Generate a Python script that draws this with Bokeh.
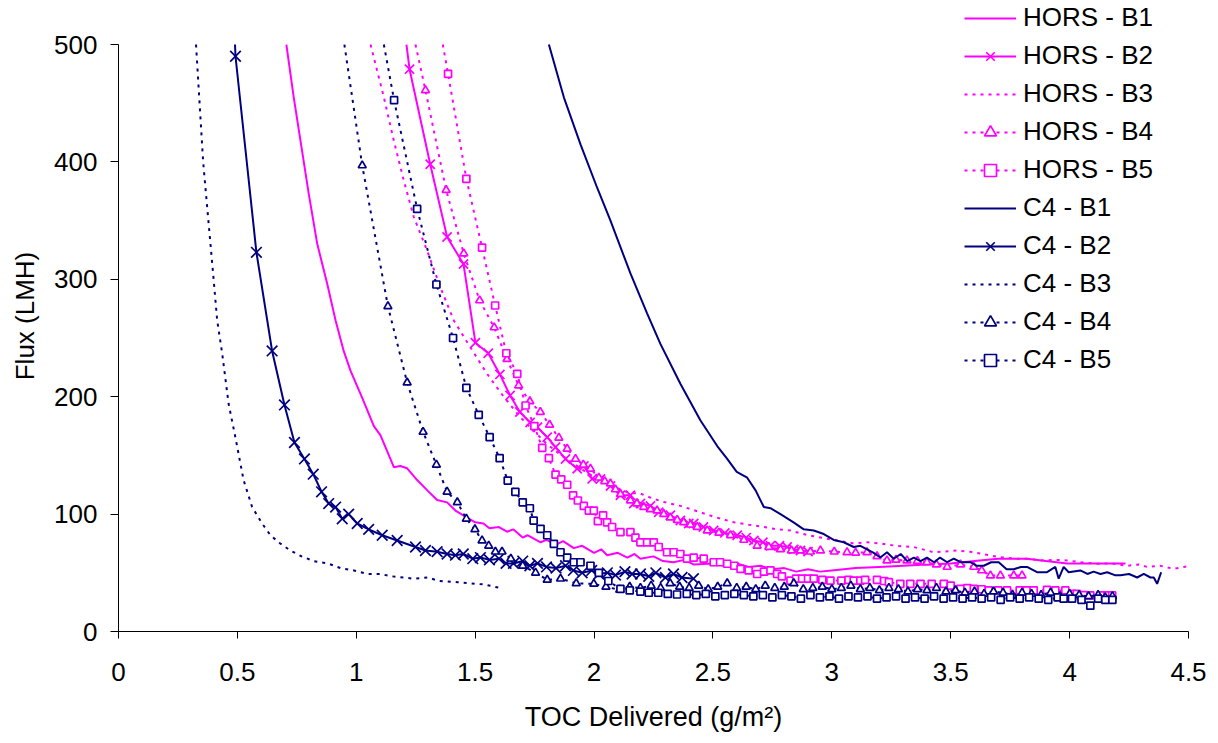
from bokeh.plotting import figure
from bokeh.models import Range1d, FixedTicker
from bokeh.embed import file_html
from bokeh.resources import INLINE

# ---------------- data ----------------
x_ticks = [0, 0.5, 1, 1.5, 2, 2.5, 3, 3.5, 4, 4.5]
x_tick_labels = ["0", "0.5", "1", "1.5", "2", "2.5", "3", "3.5", "4", "4.5"]
y_ticks = [0, 100, 200, 300, 400, 500]

# first point of each curve = where it leaves the top of the chart (y = 500)
HORS_B1 = [(0.706, 500), (0.737, 455), (0.800, 373), (0.836, 330), (0.878, 296), (0.913, 265),
           (0.947, 239), (0.976, 222), (1.025, 199), (1.074, 175), (1.102, 167), (1.158, 140), (1.185, 141),
           (1.214, 139), (1.256, 129), (1.300, 120), (1.340, 112), (1.382, 110), (1.417, 103), (1.466, 97),
           (1.500, 93), (1.535, 92), (1.560, 88), (1.600, 89), (1.634, 85), (1.660, 87), (1.700, 80),
           (1.720, 82), (1.775, 76), (1.800, 78), (1.840, 74), (1.870, 77), (1.915, 71), (1.950, 73),
           (2.000, 67), (2.030, 70), (2.055, 65), (2.100, 67), (2.140, 63), (2.170, 66), (2.195, 62),
           (2.250, 64), (2.290, 60), (2.334, 59), (2.380, 61), (2.420, 57), (2.500, 58), (2.550, 56),
           (2.600, 58), (2.650, 55), (2.700, 56), (2.750, 53), (2.800, 54), (2.850, 51), (2.900, 53),
           (2.950, 51), (3.000, 52), (3.100, 54), (3.200, 55), (3.300, 56), (3.400, 57), (3.500, 58),
           (3.600, 60), (3.700, 62), (3.820, 62), (3.900, 60), (3.990, 58), (4.100, 58), (4.235, 58)]

HORS_B2 = [(1.211, 500), (1.224, 479), (1.311, 398), (1.382, 336), (1.451, 313), (1.501, 246), (1.555, 237),
           (1.604, 219), (1.647, 201), (1.688, 187), (1.731, 178), (1.762, 174), (1.803, 165.5), (1.838, 157),
           (1.880, 147), (1.929, 138.6), (1.957, 141), (1.992, 130), (2.027, 130), (2.069, 124), (2.111, 116),
           (2.153, 116), (2.167, 109), (2.195, 109), (2.237, 107), (2.272, 101.6), (2.321, 99), (2.363, 94.5),
           (2.398, 92), (2.419, 92), (2.460, 89), (2.503, 86), (2.550, 84), (2.602, 82), (2.640, 80),
           (2.672, 77.5), (2.710, 76), (2.742, 73), (2.780, 73), (2.812, 72), (2.840, 70), (2.868, 69),
           (2.900, 68)]

HORS_B3 = [(1.060, 500), (1.116, 455), (1.158, 418), (1.200, 384), (1.242, 353), (1.298, 324.5),
           (1.354, 293), (1.410, 265), (1.480, 242), (1.550, 219.5), (1.620, 200), (1.690, 182.5), (1.746, 171),
           (1.800, 160), (1.850, 152), (1.900, 145), (1.950, 138), (2.013, 130), (2.060, 126), (2.110, 121),
           (2.150, 118), (2.195, 117.5), (2.250, 113), (2.300, 110), (2.363, 107), (2.447, 101.6), (2.500, 98),
           (2.588, 93), (2.650, 91), (2.714, 89), (2.770, 87), (2.826, 86), (2.900, 82), (2.980, 79),
           (3.040, 77), (3.092, 75), (3.150, 76), (3.204, 75), (3.270, 73), (3.344, 72), (3.429, 67.5),
           (3.527, 69), (3.597, 67.5), (3.667, 64.7), (3.720, 63), (3.779, 62), (3.830, 62), (3.877, 60.5),
           (3.940, 61), (3.989, 60.5), (4.050, 59), (4.116, 57.7), (4.180, 58), (4.242, 56), (4.290, 57),
           (4.326, 55), (4.380, 56), (4.438, 53.4), (4.480, 55), (4.508, 56)]

HORS_B4 = [(1.249, 500), (1.291, 461), (1.378, 376), (1.452, 322), (1.519, 282), (1.580, 259), (1.634, 232),
           (1.683, 209.5), (1.730, 196), (1.774, 187), (1.813, 176), (1.852, 165), (1.887, 155.6), (1.922, 147),
           (1.955, 142), (1.985, 138.6), (2.020, 131), (2.045, 128), (2.069, 126), (2.090, 121), (2.111, 117),
           (2.153, 111.6), (2.180, 109), (2.209, 106), (2.237, 104), (2.265, 103), (2.293, 100), (2.321, 97),
           (2.350, 95), (2.377, 93), (2.405, 91), (2.434, 89), (2.476, 86), (2.525, 84), (2.574, 82),
           (2.630, 78), (2.686, 73), (2.735, 72), (2.784, 70), (2.830, 69), (2.868, 69), (2.910, 68),
           (2.952, 69), (3.010, 68), (3.064, 67.5), (3.100, 67), (3.148, 67.5), (3.190, 64), (3.232, 60.5),
           (3.270, 61), (3.316, 60.5), (3.360, 60), (3.400, 59), (3.440, 57), (3.485, 55), (3.541, 57),
           (3.597, 55), (3.630, 52), (3.667, 47.7), (3.709, 47.7), (3.765, 47.7), (3.800, 47.7)]

HORS_B5 = [(1.364, 500), (1.386, 475), (1.463, 385.6), (1.529, 327), (1.584, 277.7), (1.631, 237), (1.677, 219.5),
           (1.712, 192.5), (1.749, 175), (1.782, 156.5), (1.810, 147.6), (1.838, 133.7), (1.862, 129.5),
           (1.887, 125), (1.912, 116), (1.932, 111.6), (1.957, 107), (1.978, 103), (1.999, 103), (2.016, 94),
           (2.038, 99), (2.055, 93), (2.076, 89), (2.111, 84.6), (2.153, 84.6), (2.174, 80), (2.195, 76),
           (2.223, 76), (2.251, 76), (2.272, 72), (2.307, 67.5), (2.335, 67.5), (2.363, 66), (2.391, 62),
           (2.419, 63), (2.461, 62), (2.503, 59), (2.530, 59), (2.560, 57.7), (2.590, 56), (2.616, 53.4),
           (2.650, 52), (2.686, 49), (2.715, 51), (2.742, 52), (2.770, 49), (2.790, 47), (2.826, 43.4),
           (2.850, 45), (2.875, 45), (2.900, 45), (2.924, 45), (2.960, 44), (2.994, 43.4), (3.040, 43.4),
           (3.070, 44), (3.092, 43.4), (3.120, 43.4), (3.140, 44), (3.190, 44), (3.220, 43), (3.240, 42),
           (3.288, 40.6), (3.330, 40.6), (3.373, 40.6), (3.420, 40.6), (3.471, 40.6), (3.500, 39),
           (3.541, 36.3), (3.570, 37), (3.597, 36.3), (3.630, 36), (3.660, 35), (3.700, 35), (3.737, 35),
           (3.790, 35), (3.820, 35), (3.849, 35), (3.905, 35.4), (3.940, 35), (3.982, 35), (4.010, 32),
           (4.030, 32), (4.060, 31), (4.087, 30.7), (4.130, 30.7), (4.160, 30.7), (4.179, 30.7)]

C4_B1 = [(1.810, 500), (1.873, 455), (1.943, 415), (2.013, 378), (2.069, 350), (2.153, 305),
         (2.223, 271), (2.279, 245), (2.363, 211), (2.447, 180), (2.518, 158), (2.560, 147), (2.600, 136),
         (2.644, 131), (2.680, 120), (2.714, 106), (2.742, 105), (2.784, 100), (2.839, 93), (2.882, 87),
         (2.924, 86), (2.966, 83), (3.008, 78), (3.050, 76), (3.092, 72), (3.120, 73), (3.148, 70),
         (3.176, 67), (3.204, 63), (3.232, 67.5), (3.260, 62), (3.290, 66), (3.317, 60), (3.345, 63),
         (3.373, 60), (3.400, 63), (3.430, 59), (3.455, 63), (3.485, 59), (3.513, 62), (3.541, 59),
         (3.583, 59), (3.610, 56), (3.639, 56), (3.670, 59), (3.702, 59), (3.735, 53), (3.765, 53),
         (3.795, 55), (3.821, 55), (3.863, 50.5), (3.905, 50.5), (3.940, 55), (3.954, 45), (3.975, 55),
         (3.996, 50.5), (4.045, 52), (4.075, 49), (4.101, 51), (4.130, 49), (4.158, 50.5), (4.190, 48),
         (4.214, 48), (4.250, 49), (4.284, 46), (4.312, 49), (4.340, 46), (4.354, 46), (4.368, 40.6),
         (4.385, 50.5)]

C4_B2 = [(0.490, 500), (0.492, 490), (0.580, 323), (0.646, 239), (0.698, 193), (0.740, 161), (0.782, 147),
         (0.819, 134), (0.854, 119), (0.884, 109), (0.913, 106), (0.941, 96), (0.968, 100), (1.004, 92),
         (1.052, 87), (1.109, 82), (1.172, 77.5), (1.249, 72), (1.291, 69), (1.340, 68), (1.382, 66),
         (1.417, 65), (1.450, 66), (1.490, 62), (1.522, 63), (1.560, 61), (1.600, 62), (1.630, 58),
         (1.661, 58), (1.700, 60), (1.730, 56), (1.762, 58), (1.800, 55), (1.840, 54), (1.880, 56),
         (1.913, 52), (1.950, 50), (1.990, 52), (2.020, 49), (2.056, 50), (2.090, 48), (2.130, 51),
         (2.160, 49), (2.195, 49), (2.230, 47), (2.260, 50), (2.300, 46), (2.334, 49), (2.370, 46),
         (2.418, 45)]

C4_B3 = [(0.326, 500), (0.356, 400), (0.400, 300), (0.415, 265), (0.436, 237), (0.463, 194),
         (0.492, 165), (0.526, 129), (0.562, 106), (0.604, 92), (0.639, 82), (0.680, 75), (0.723, 69),
         (0.770, 64), (0.820, 60), (0.880, 58), (0.934, 54), (0.990, 52), (1.046, 49), (1.100, 49),
         (1.150, 47), (1.200, 46), (1.240, 45), (1.300, 46), (1.350, 43), (1.426, 42), (1.480, 41),
         (1.540, 40), (1.606, 37)]

C4_B4 = [(0.950, 500), (1.025, 397), (1.133, 277), (1.214, 212), (1.281, 170), (1.337, 142), (1.382, 119),
         (1.425, 110), (1.463, 96), (1.499, 87), (1.529, 77.5), (1.557, 73), (1.585, 68), (1.613, 68),
         (1.650, 62), (1.700, 56), (1.754, 50), (1.803, 44), (1.859, 45), (1.925, 41), (1.999, 40.6),
         (2.050, 38), (2.108, 35.5), (2.150, 38), (2.195, 37), (2.240, 39), (2.280, 37), (2.320, 41),
         (2.360, 38), (2.400, 37), (2.440, 39), (2.480, 36), (2.520, 38), (2.560, 41), (2.600, 37),
         (2.640, 38), (2.680, 36), (2.720, 39), (2.760, 37), (2.800, 38), (2.840, 41), (2.880, 36),
         (2.920, 37), (2.960, 38), (3.000, 36), (3.040, 37), (3.080, 39), (3.120, 36), (3.160, 37),
         (3.200, 35), (3.240, 37), (3.280, 36), (3.320, 34), (3.360, 36), (3.400, 35), (3.440, 37),
         (3.480, 34), (3.520, 35), (3.560, 33), (3.600, 34), (3.640, 32), (3.680, 34), (3.720, 33),
         (3.760, 31), (3.800, 33), (3.840, 32), (3.880, 31), (3.920, 33), (3.960, 30), (4.000, 32),
         (4.040, 31), (4.080, 30), (4.120, 31), (4.150, 29), (4.180, 30)]

C4_B5 = [(1.116, 500), (1.159, 452.6), (1.256, 360), (1.337, 295.6), (1.407, 250), (1.463, 207.6),
         (1.515, 184.6), (1.561, 165.5), (1.603, 147.6), (1.637, 128.6), (1.669, 119), (1.700, 110),
         (1.730, 105), (1.746, 94.5), (1.775, 87.5), (1.803, 82), (1.831, 74.7), (1.859, 67.5), (1.887, 63),
         (1.915, 59), (1.943, 59), (1.985, 56), (2.020, 50), (2.060, 43), (2.111, 36.3), (2.150, 35),
         (2.195, 34), (2.230, 33), (2.270, 33), (2.310, 32), (2.349, 31.5), (2.390, 32), (2.430, 31),
         (2.470, 32), (2.510, 30), (2.550, 31), (2.590, 32), (2.630, 31), (2.670, 30), (2.710, 31),
         (2.750, 29), (2.790, 31), (2.830, 30), (2.870, 28), (2.910, 31), (2.950, 29), (2.990, 30),
         (3.030, 28), (3.070, 30), (3.110, 29), (3.150, 30), (3.190, 28), (3.230, 29), (3.270, 30),
         (3.310, 28), (3.350, 29), (3.390, 28), (3.430, 30), (3.470, 28), (3.510, 29), (3.550, 28),
         (3.590, 29), (3.630, 28), (3.670, 29), (3.710, 27), (3.750, 29), (3.790, 28), (3.830, 29),
         (3.870, 28), (3.910, 27), (3.950, 29), (3.975, 28), (4.010, 28), (4.050, 27), (4.087, 22),
         (4.120, 28), (4.150, 27), (4.180, 27)]

series = [
    ("HORS - B1", HORS_B1, "magenta", "solid", None, 0),
    ("HORS - B2", HORS_B2, "magenta", "solid", "x", 13),
    ("HORS - B3", HORS_B3, "magenta", "dot", None, 0),
    ("HORS - B4", HORS_B4, "magenta", "dot", "triangle", 8),
    ("HORS - B5", HORS_B5, "magenta", "dot", "square", 7),
    ("C4 - B1", C4_B1, "navy", "solid", None, 0),
    ("C4 - B2", C4_B2, "navy", "solid", "x", 15),
    ("C4 - B3", C4_B3, "navy", "dot", None, 0),
    ("C4 - B4", C4_B4, "navy", "dot", "triangle", 8),
    ("C4 - B5", C4_B5, "navy", "dot", "square", 7),
]

# ---------------- styling ----------------
COLORS = {"magenta": "#FF00FF", "navy": "#000080"}
FONT = "Liberation Sans"
Y_MAX = 500
Y_TOP = 537.5   # frame reaches the top edge of the page so the legend is not clipped

p = figure(width=1218, height=743, output_backend="svg", toolbar_location=None,
           x_range=Range1d(0, 4.5), y_range=Range1d(0, Y_TOP),
           min_border_left=118, min_border_right=30, min_border_top=0, min_border_bottom=112)
p.background_fill_color = "white"
p.border_fill_color = "white"
p.outline_line_color = None
p.xgrid.visible = False
p.ygrid.visible = False

for name, pts, col, style, marker, msize in series:
    xs = [a for a, b in pts]
    ys = [b for a, b in pts]
    c = COLORS[col]
    if style == "dot":
        p.line(xs, ys, line_color=c, line_width=2, line_dash="3 5", legend_label=name)
    else:
        p.line(xs, ys, line_color=c, line_width=2, legend_label=name)
    mx = [a for a, b in pts if b < Y_MAX]
    my = [b for a, b in pts if b < Y_MAX]
    if marker == "x":
        p.scatter(mx, my, marker="x", size=msize, line_color=c, line_width=1.7, legend_label=name)
    elif marker is not None:
        p.scatter(mx, my, marker=marker, size=msize, line_color=c, fill_color="white",
                  line_width=1.7, legend_label=name)

for ax in (p.xaxis[0], p.yaxis[0]):
    ax.axis_line_color = "black"
    ax.axis_line_width = 1
    ax.major_tick_line_color = "black"
    ax.major_tick_in = 0
    ax.minor_tick_line_color = None
    ax.major_label_text_font = FONT
    ax.major_label_text_font_size = "26px"
    ax.major_label_text_color = "black"
    ax.axis_label_text_font = FONT
    ax.axis_label_text_font_style = "normal"
    ax.axis_label_text_color = "black"

p.xaxis.ticker = FixedTicker(ticks=x_ticks)
p.xaxis.major_label_overrides = dict(zip(x_ticks, x_tick_labels))
p.xaxis.major_tick_out = 7
p.xaxis.major_label_standoff = 24
p.xaxis.axis_label = "TOC Delivered (g/m\u00b2)"
p.xaxis.axis_label_text_font_size = "27px"
p.xaxis.axis_label_standoff = 18

p.yaxis.ticker = FixedTicker(ticks=y_ticks)
p.yaxis.bounds = (0, Y_MAX)
p.yaxis.major_tick_out = 8
p.yaxis.major_label_standoff = 13
p.yaxis.axis_label = "Flux (LMH)"
p.yaxis.axis_label_text_font_size = "26px"
p.yaxis.axis_label_standoff = 11

lg = p.legend[0]
lg.location = (846, 256)
lg.padding = 0
lg.margin = 0
lg.spacing = 7
lg.glyph_width = 52
lg.glyph_height = 30
lg.label_height = 30
lg.label_standoff = 7
lg.label_text_font = FONT
lg.label_text_font_size = "26px"
lg.label_text_color = "black"
lg.background_fill_alpha = 0
lg.border_line_color = None

open("out.html", "w").write(file_html(p, INLINE))
